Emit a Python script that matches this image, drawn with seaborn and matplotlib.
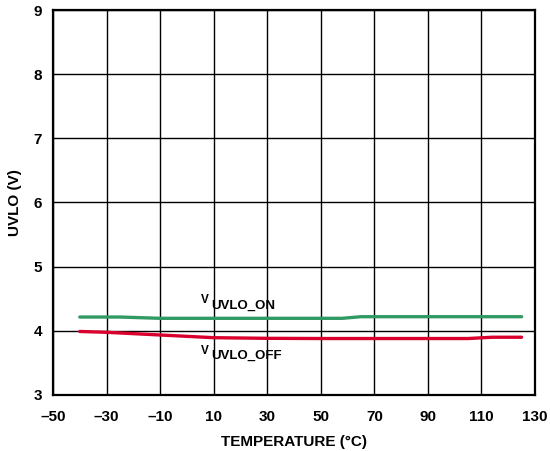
import matplotlib
matplotlib.use("Agg")
import matplotlib.pyplot as plt
import seaborn as sns
import pandas as pd

# Data
temp_on = [-40, -25, -10, 10, 30, 50, 58, 65, 80, 100, 125]
uvlo_on = [4.215, 4.215, 4.195, 4.195, 4.195, 4.195, 4.195, 4.22, 4.22, 4.22, 4.22]
temp_off = [-40, -30, -10, 10, 30, 50, 70, 90, 105, 114, 125]
uvlo_off = [3.99, 3.977, 3.935, 3.893, 3.883, 3.88, 3.88, 3.88, 3.88, 3.90, 3.90]
x_ticks = [-50, -30, -10, 10, 30, 50, 70, 90, 110, 130]
y_ticks = [3, 4, 5, 6, 7, 8, 9]

sns.set_style("white")
plt.rcParams['font.family'] = ['Liberation Sans', 'DejaVu Sans']
plt.rcParams['font.weight'] = 'bold'
plt.rcParams['text.color'] = 'black'
plt.rcParams['axes.labelcolor'] = 'black'
plt.rcParams['xtick.color'] = 'black'
plt.rcParams['ytick.color'] = 'black'

fig = plt.figure(figsize=(5.5, 4.51), dpi=100)
ax = fig.add_axes([0.0964, 0.1242, 0.8763, 0.8536])

df_on = pd.DataFrame({"T": temp_on, "V": uvlo_on})
df_off = pd.DataFrame({"T": temp_off, "V": uvlo_off})
sns.lineplot(data=df_on, x="T", y="V", ax=ax, color="#319a64", linewidth=2.4, zorder=3)
sns.lineplot(data=df_off, x="T", y="V", ax=ax, color="#d9002e", linewidth=2.4, zorder=3)

ax.set_xlim(-50, 130)
ax.set_ylim(3, 9)
ax.set_xticks(x_ticks)
ax.set_xticklabels([str(t).replace('-', '\u2013') for t in x_ticks])
ax.set_yticks(y_ticks)
ax.set_yticklabels([str(t) for t in y_ticks])
ax.tick_params(axis='both', length=0, labelsize=11, colors='black')
ax.tick_params(axis='x', pad=10.5)
ax.tick_params(axis='y', pad=8)
for lbl in ax.get_xticklabels() + ax.get_yticklabels():
    lbl.set_fontweight('bold')
ax.grid(True, color='black', linewidth=1.0)
ax.set_axisbelow(True)
for s in ax.spines.values():
    s.set_color('black')
    s.set_linewidth(1.6)
    s.set_visible(True)

ax.set_xlabel("TEMPERATURE (°C)", fontsize=11, fontweight='bold', labelpad=8, color='black')
ax.set_ylabel("UVLO (V)", fontsize=11, fontweight='bold', labelpad=8, color='black')

# Curve labels (V with subscript, drawn as two texts)
ax.text(5.3, 4.43, "V", fontsize=8.5, fontweight='bold', ha='left', va='baseline', color='black')
ax.text(9.0, 4.351, "UVLO_ON", fontsize=9.5, fontweight='bold', ha='left', va='baseline', color='black')
ax.text(5.3, 3.639, "V", fontsize=8.5, fontweight='bold', ha='left', va='baseline', color='black')
ax.text(9.0, 3.561, "UVLO_OFF", fontsize=9.5, fontweight='bold', ha='left', va='baseline', color='black')

fig.savefig("out.png", dpi=100)
